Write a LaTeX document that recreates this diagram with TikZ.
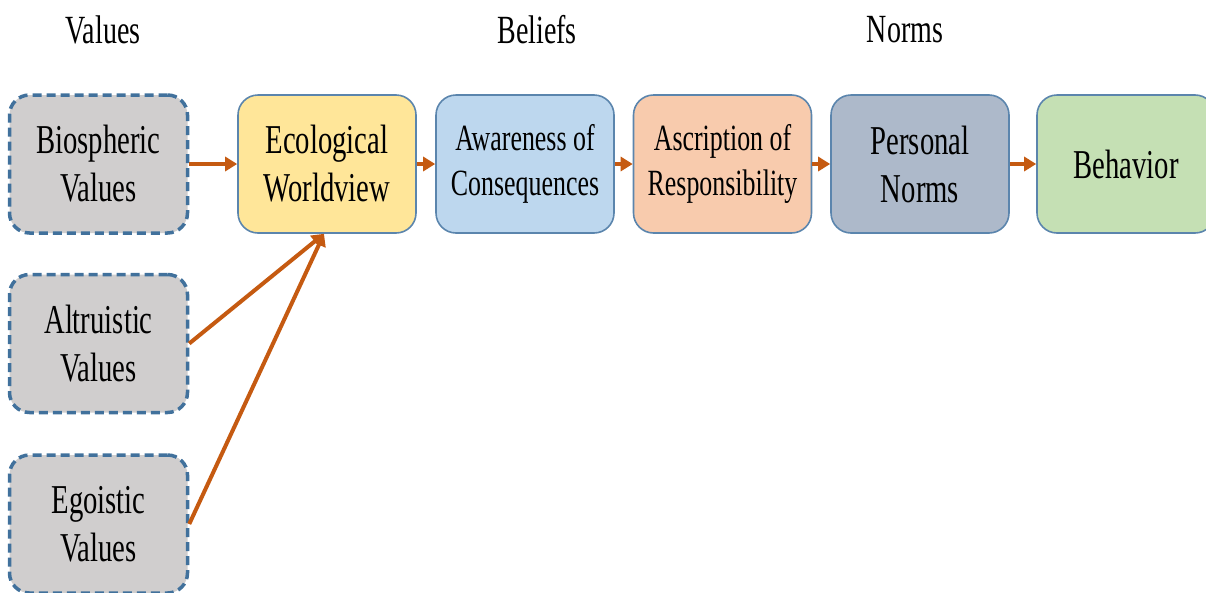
\documentclass[tikz,border=0pt]{standalone}
\usepackage{fontspec}
\setmainfont{Liberation Serif}[FakeStretch=0.7]
\usetikzlibrary{arrows.meta}
\definecolor{arrowc}{HTML}{C55A11}
\definecolor{dashc}{HTML}{41719C}
\definecolor{edgec}{HTML}{5B85AD}
\definecolor{greyf}{HTML}{D0CECE}
\definecolor{yellowf}{HTML}{FFE699}
\definecolor{bluef}{HTML}{BDD7EE}
\definecolor{orangef}{HTML}{F8CBAD}
\definecolor{slatef}{HTML}{ADB9CA}
\definecolor{greenf}{HTML}{C5E0B4}
\tikzset{
  box/.style={rectangle, rounded corners=20pt, minimum width=178pt,
    minimum height=138pt, inner sep=0pt, align=center,
    font=\fontsize{41}{48}\selectfont},
  valuebox/.style={box, fill=greyf, draw=dashc, line width=3.5pt,
    dash pattern=on 9pt off 5pt},
  stagebox/.style={box, draw=edgec, line width=1.6pt},
  smalltext/.style={font=\fontsize{37}{45}\selectfont},
  heading/.style={font=\fontsize{40}{46}\selectfont, inner sep=0pt},
  link/.style={draw=arrowc, line width=4pt,
    -{Triangle[length=12pt, width=14pt]}},
}
\begin{document}
\begin{tikzpicture}[x=1pt, y=-1pt]
  \useasboundingbox (0,0) rectangle (1206,592);

  % column headings
  \node[heading] (hval) at (103,30) {Values};
  \node[heading] (hbel) at (537,30) {Beliefs};
  \node[heading] (hnor) at (905,30) {Norms};

  % value orientations
  \node[valuebox] (bio) at (98.5,164) {Biospheric\\Values};
  \node[valuebox] (alt) at (98.5,343.5) {Altruistic\\Values};
  \node[valuebox] (ego) at (98.5,524) {Egoistic\\Values};

  % causal chain
  \node[stagebox, fill=yellowf] (eco) at (327,164) {Ecological\\Worldview};
  \node[stagebox, fill=bluef, smalltext] (awa) at (525,164) {Awareness of\\Consequences};
  \node[stagebox, fill=orangef, smalltext] (asc) at (722.5,164) {Ascription of\\Responsibility};
  \node[stagebox, fill=slatef] (per) at (920,164) {Personal\\Norms};
  \node[stagebox, fill=greenf] (beh) at (1126,164) {Behavior};

  % connectors
  \draw[link] (bio) -- (eco);
  \draw[link] (alt.east) -- ([xshift=-3pt]eco.south);
  \draw[link] (ego.east) -- ([xshift=-3pt]eco.south);
  \draw[link] (eco) -- (awa);
  \draw[link] (awa) -- (asc);
  \draw[link] (asc) -- (per);
  \draw[link] (per) -- (beh);
\end{tikzpicture}
\end{document}
